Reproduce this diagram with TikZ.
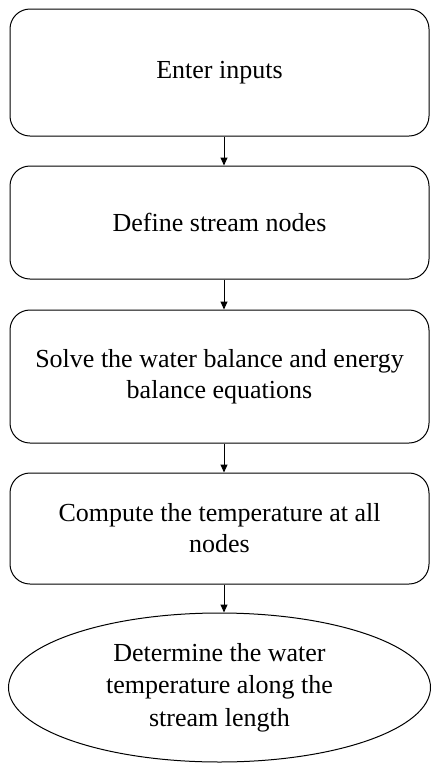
\documentclass[tikz,border=0pt]{standalone}
\usepackage{fontspec}
\setmainfont{Liberation Serif}
\usetikzlibrary{shapes.geometric,arrows.meta}
\begin{document}
\begin{tikzpicture}[x=1pt,y=-1pt,
  stepbox/.style={draw, line width=1pt, rounded corners=20pt, align=center, font=\fontsize{26}{31}\selectfont, inner sep=0pt},
  endell/.style={draw, line width=1pt, ellipse, align=center, font=\fontsize{26}{32.5}\selectfont, inner sep=0pt},
  conn/.style={line width=1pt, -{Triangle[length=8pt,width=7pt]}}]
\useasboundingbox (0,0) rectangle (431,764);
\node[stepbox, minimum width=419pt, minimum height=127pt] (a) at (219.5,72.5) {Enter inputs};
\node[stepbox, minimum width=419pt, minimum height=113pt] (b) at (219.5,222.5) {Define stream nodes};
\node[stepbox, minimum width=419pt, minimum height=133pt] (c) at (219.5,376.5) {Solve the water balance and energy\\balance equations};
\node[stepbox, minimum width=419pt, minimum height=111pt] (d) at (219.5,528.5) {Compute the temperature at all\\nodes};
\node[endell, minimum width=422pt, minimum height=149pt] (e) at (219.5,687.5) {Determine the water\\temperature along the\\stream length};
\draw[conn] (a.south -| 224,0) -- (b.north -| 224,0);
\draw[conn] (b.south -| 224,0) -- (c.north -| 224,0);
\draw[conn] (c.south -| 224,0) -- (d.north -| 224,0);
\draw[conn] (d.south -| 224,0) -- (e.north -| 224,0);
\end{tikzpicture}
\end{document}
